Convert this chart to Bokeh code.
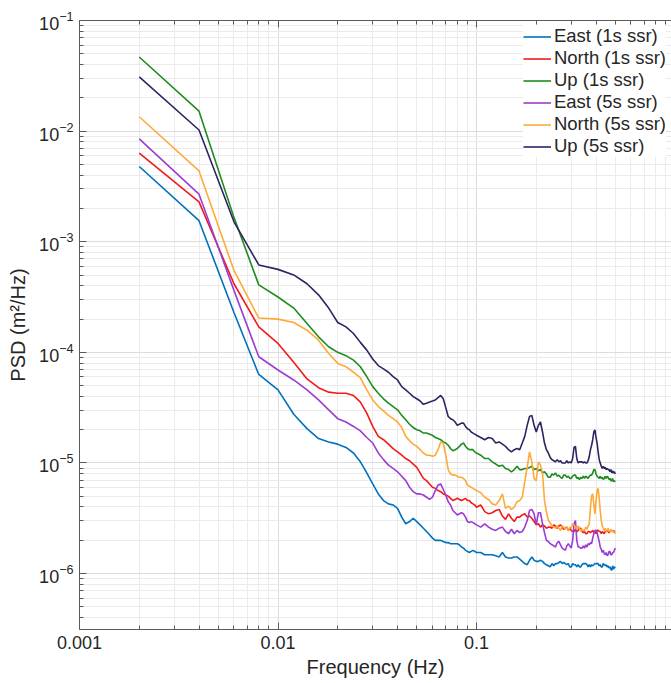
import numpy as np
from bokeh.plotting import figure
from bokeh.models import Range1d, FixedTicker, LogAxis, CustomJSTickFormatter
from bokeh.embed import file_html
from bokeh.resources import INLINE

# Frequency grid (Hz)
freq = np.round(np.concatenate([np.arange(1, 51) * 0.002, 0.1 + np.arange(1, 81) * 0.005]), 4)

# log10 of PSD (m^2/Hz)
east_1s_log10 = [
    -2.32, -2.81, -3.64, -4.20, -4.34, -4.56, -4.69, -4.78, -4.81, -4.83,
    -4.86, -4.91, -4.99, -5.09, -5.19, -5.28, -5.34, -5.37, -5.38, -5.41,
    -5.49, -5.55, -5.53, -5.50, -5.53, -5.56, -5.59, -5.62, -5.65, -5.68,
    -5.70, -5.70, -5.70, -5.71, -5.72, -5.72, -5.73, -5.73, -5.73, -5.73,
    -5.74, -5.76, -5.77, -5.79, -5.80, -5.81, -5.80, -5.79, -5.80, -5.81,
    -5.81, -5.83, -5.83, -5.83, -5.84, -5.85, -5.81, -5.85, -5.86, -5.86,
    -5.85, -5.85, -5.87, -5.89, -5.91, -5.92, -5.88, -5.85, -5.88, -5.89,
    -5.89, -5.88, -5.89, -5.91, -5.92, -5.93, -5.94, -5.91, -5.93, -5.91,
    -5.91, -5.90, -5.89, -5.91, -5.90, -5.91, -5.92, -5.91, -5.94, -5.94,
    -5.91, -5.92, -5.92, -5.94, -5.92, -5.94, -5.94, -5.92, -5.91, -5.91,
    -5.91, -5.92, -5.94, -5.92, -5.94, -5.92, -5.93, -5.92, -5.91, -5.91,
    -5.91, -5.91, -5.93, -5.92, -5.94, -5.94, -5.91, -5.92, -5.93, -5.92,
    -5.94, -5.93, -5.95, -5.94, -5.96, -5.97, -5.93, -5.96, -5.94, -5.95,
]
north_1s_log10 = [
    -2.20, -2.64, -3.38, -3.77, -3.92, -4.09, -4.24, -4.32, -4.36, -4.37,
    -4.37, -4.39, -4.45, -4.55, -4.67, -4.76, -4.79, -4.83, -4.87, -4.90,
    -4.93, -4.96, -4.98, -5.01, -5.04, -5.09, -5.14, -5.16, -5.19, -5.22,
    -5.23, -5.25, -5.26, -5.28, -5.29, -5.30, -5.32, -5.34, -5.33, -5.32,
    -5.33, -5.34, -5.33, -5.32, -5.34, -5.34, -5.36, -5.37, -5.38, -5.40,
    -5.38, -5.44, -5.46, -5.45, -5.43, -5.42, -5.48, -5.51, -5.46, -5.50,
    -5.53, -5.49, -5.49, -5.47, -5.46, -5.49, -5.48, -5.50, -5.53, -5.56,
    -5.55, -5.58, -5.56, -5.57, -5.59, -5.58, -5.58, -5.59, -5.56, -5.57,
    -5.59, -5.57, -5.56, -5.58, -5.60, -5.59, -5.58, -5.61, -5.59, -5.61,
    -5.62, -5.62, -5.60, -5.62, -5.61, -5.59, -5.59, -5.62, -5.63, -5.62,
    -5.64, -5.64, -5.62, -5.62, -5.63, -5.62, -5.61, -5.63, -5.62, -5.64,
    -5.61, -5.61, -5.62, -5.62, -5.64, -5.62, -5.63, -5.64, -5.62, -5.62,
    -5.61, -5.62, -5.63, -5.62, -5.61, -5.61, -5.62, -5.61, -5.62, -5.62,
]
up_1s_log10 = [
    -1.33, -1.82, -2.78, -3.39, -3.50, -3.60, -3.74, -3.86, -3.95, -4.00,
    -4.03, -4.07, -4.13, -4.22, -4.31, -4.37, -4.42, -4.46, -4.49, -4.52,
    -4.57, -4.61, -4.65, -4.68, -4.70, -4.71, -4.73, -4.73, -4.74, -4.75,
    -4.77, -4.78, -4.79, -4.81, -4.82, -4.84, -4.87, -4.89, -4.88, -4.87,
    -4.85, -4.83, -4.82, -4.85, -4.87, -4.88, -4.88, -4.88, -4.90, -4.91,
    -4.93, -4.96, -4.96, -4.99, -5.01, -5.03, -5.02, -5.05, -5.06, -5.08,
    -5.06, -5.03, -5.06, -5.06, -5.05, -5.05, -5.04, -5.03, -5.06, -5.05,
    -5.07, -5.06, -5.09, -5.08, -5.10, -5.13, -5.13, -5.10, -5.11, -5.09,
    -5.12, -5.11, -5.13, -5.14, -5.11, -5.11, -5.13, -5.12, -5.14, -5.14,
    -5.12, -5.11, -5.11, -5.14, -5.13, -5.15, -5.13, -5.14, -5.12, -5.14,
    -5.12, -5.13, -5.14, -5.12, -5.11, -5.11, -5.09, -5.06, -5.06, -5.10,
    -5.12, -5.13, -5.14, -5.12, -5.14, -5.13, -5.15, -5.14, -5.12, -5.14,
    -5.12, -5.13, -5.15, -5.14, -5.16, -5.16, -5.14, -5.17, -5.16, -5.17,
]
east_5s_log10 = [
    -2.07, -2.57, -3.44, -4.04, -4.16, -4.25, -4.34, -4.43, -4.52, -4.60,
    -4.63, -4.67, -4.71, -4.77, -4.82, -4.91, -4.97, -5.02, -5.05, -5.08,
    -5.12, -5.16, -5.22, -5.26, -5.28, -5.28, -5.29, -5.31, -5.33, -5.31,
    -5.25, -5.20, -5.19, -5.24, -5.29, -5.35, -5.38, -5.43, -5.45, -5.47,
    -5.46, -5.45, -5.46, -5.49, -5.53, -5.54, -5.53, -5.54, -5.55, -5.56,
    -5.58, -5.55, -5.58, -5.60, -5.61, -5.59, -5.58, -5.62, -5.64, -5.60,
    -5.64, -5.61, -5.63, -5.62, -5.58, -5.52, -5.43, -5.42, -5.46, -5.56,
    -5.45, -5.45, -5.55, -5.63, -5.70, -5.71, -5.73, -5.74, -5.75, -5.76,
    -5.72, -5.71, -5.74, -5.77, -5.78, -5.79, -5.75, -5.73, -5.75, -5.77,
    -5.70, -5.55, -5.52, -5.70, -5.76, -5.76, -5.77, -5.77, -5.75, -5.77,
    -5.74, -5.76, -5.73, -5.74, -5.72, -5.73, -5.68, -5.64, -5.61, -5.61,
    -5.63, -5.67, -5.71, -5.76, -5.78, -5.81, -5.79, -5.82, -5.83, -5.81,
    -5.84, -5.83, -5.80, -5.80, -5.83, -5.83, -5.81, -5.81, -5.79, -5.77,
]
north_5s_log10 = [
    -1.87, -2.36, -3.26, -3.69, -3.70, -3.73, -3.80, -3.89, -4.01, -4.10,
    -4.13, -4.18, -4.23, -4.34, -4.43, -4.49, -4.53, -4.57, -4.60, -4.63,
    -4.68, -4.76, -4.80, -4.83, -4.85, -4.88, -4.91, -4.93, -4.93, -4.94,
    -4.93, -4.88, -4.81, -4.82, -4.93, -5.06, -5.10, -5.11, -5.11, -5.12,
    -5.13, -5.13, -5.14, -5.16, -5.20, -5.21, -5.22, -5.23, -5.24, -5.25,
    -5.27, -5.31, -5.33, -5.37, -5.38, -5.34, -5.28, -5.41, -5.39, -5.42,
    -5.40, -5.35, -5.34, -5.31, -5.17, -5.04, -4.90, -4.99, -5.14, -5.16,
    -4.99, -5.02, -5.09, -5.34, -5.44, -5.52, -5.54, -5.57, -5.58, -5.59,
    -5.57, -5.59, -5.61, -5.57, -5.58, -5.60, -5.58, -5.61, -5.58, -5.59,
    -5.55, -5.56, -5.58, -5.60, -5.57, -5.59, -5.62, -5.60, -5.61, -5.61,
    -5.58, -5.60, -5.57, -5.55, -5.40, -5.30, -5.28, -5.38, -5.46, -5.34,
    -5.25, -5.23, -5.32, -5.43, -5.52, -5.57, -5.59, -5.61, -5.59, -5.62,
    -5.61, -5.59, -5.62, -5.62, -5.60, -5.62, -5.61, -5.63, -5.62, -5.64,
]
up_5s_log10 = [
    -1.51, -1.99, -2.82, -3.21, -3.25, -3.30, -3.38, -3.48, -3.60, -3.73,
    -3.77, -3.83, -3.91, -3.98, -4.06, -4.12, -4.15, -4.18, -4.22, -4.25,
    -4.31, -4.34, -4.37, -4.40, -4.42, -4.44, -4.47, -4.46, -4.45, -4.44,
    -4.43, -4.41, -4.39, -4.42, -4.50, -4.58, -4.60, -4.61, -4.63, -4.66,
    -4.65, -4.64, -4.64, -4.67, -4.69, -4.70, -4.72, -4.73, -4.74, -4.75,
    -4.77, -4.79, -4.77, -4.78, -4.82, -4.81, -4.83, -4.85, -4.88, -4.90,
    -4.88, -4.87, -4.88, -4.82, -4.76, -4.66, -4.58, -4.57, -4.66, -4.72,
    -4.66, -4.63, -4.72, -4.82, -4.88, -4.91, -4.95, -4.97, -4.98, -4.99,
    -4.97, -4.99, -4.98, -5.00, -5.00, -5.00, -4.98, -5.00, -4.99, -5.00,
    -4.96, -4.86, -4.85, -4.96, -5.00, -4.99, -4.99, -4.99, -5.00, -4.99,
    -5.00, -5.00, -4.98, -4.94, -4.88, -4.84, -4.79, -4.72, -4.70, -4.77,
    -4.82, -4.90, -4.97, -5.00, -5.03, -5.05, -5.03, -5.05, -5.04, -5.06,
    -5.05, -5.06, -5.06, -5.08, -5.06, -5.09, -5.07, -5.09, -5.08, -5.10,
]

series_labels = ["East (1s ssr)", "North (1s ssr)", "Up (1s ssr)",
                 "East (5s ssr)", "North (5s ssr)", "Up (5s ssr)"]
series_values = [east_1s_log10, north_1s_log10, up_1s_log10,
                 east_5s_log10, north_5s_log10, up_5s_log10]
series_colors = ["#0072BD", "#F21A1A", "#1E8C1E", "#9B3CD2", "#FFAA38", "#2E2462"]

x_major = [0.001, 0.01, 0.1, 1.0]
y_major = [1e-7, 1e-6, 1e-5, 1e-4, 1e-3, 1e-2, 1e-1, 1.0]
x_minor = [m * 10.0 ** k for k in range(-3, 0) for m in range(2, 10)]
y_minor = [m * 10.0 ** k for k in range(-7, 0) for m in range(2, 10)]

FONT = "Liberation Sans"
TXT = "#262626"
AX = "#5a5a5a"

p = figure(width=671, height=683, x_axis_type="log", y_axis_type="log",
           x_range=Range1d(0.001, 0.96), y_range=Range1d(3.12e-7, 0.1),
           output_backend="svg", toolbar_location=None,
           min_border_left=79, min_border_right=0, min_border_top=20,
           min_border_bottom=54)
p.outline_line_color = None
p.background_fill_color = "white"

for lab, vals, col in zip(series_labels, series_values, series_colors):
    p.line(freq, 10.0 ** np.array(vals), line_color=col, line_width=1.6,
           legend_label=lab)

xt = FixedTicker(ticks=x_major, minor_ticks=x_minor)
yt = FixedTicker(ticks=y_major, minor_ticks=y_minor)

bottom = p.below[0]
left = p.left[0]
bottom.ticker = xt
bottom.formatter = CustomJSTickFormatter(code="return tick.toString();")
left.ticker = yt

top = LogAxis(ticker=xt)
p.add_layout(top, "above")

for ax in (bottom, left, top):
    ax.axis_line_color = AX
    ax.major_tick_line_color = AX
    ax.minor_tick_line_color = AX
    ax.major_tick_in = 7
    ax.major_tick_out = 0
    ax.minor_tick_in = 4
    ax.minor_tick_out = 0
    ax.major_label_text_font = FONT
    ax.major_label_text_color = TXT
    ax.axis_label_text_font = FONT
    ax.axis_label_text_color = TXT
    ax.axis_label_text_font_style = "normal"

top.major_label_text_font_size = "2px"
top.major_label_text_alpha = 0.0
top.major_label_standoff = 0

bottom.major_label_text_font_size = "18px"
left.major_label_text_font_size = "18px"
bottom.major_label_standoff = 6
left.major_label_standoff = 6
bottom.axis_label = "Frequency (Hz)"
left.axis_label = "PSD (m²/Hz)"
bottom.axis_label_text_font_size = "20px"
left.axis_label_text_font_size = "20px"
bottom.axis_label_standoff = 4
left.axis_label_standoff = 7

p.xgrid.grid_line_color = "#dcdcdc"
p.ygrid.grid_line_color = "#dcdcdc"
p.xgrid.minor_grid_line_color = "#ebebeb"
p.ygrid.minor_grid_line_color = "#ebebeb"

lg = p.legend[0]
lg.location = "top_right"
lg.margin = 5
lg.padding = 3
lg.spacing = 0
lg.label_height = 21
lg.glyph_height = 21
lg.glyph_width = 28
lg.label_standoff = 3
lg.label_text_font = FONT
lg.label_text_font_size = "18.5px"
lg.label_text_color = TXT
lg.border_line_color = None
lg.background_fill_color = "white"
lg.background_fill_alpha = 1.0

open("out.html", "w").write(file_html(p, INLINE))
